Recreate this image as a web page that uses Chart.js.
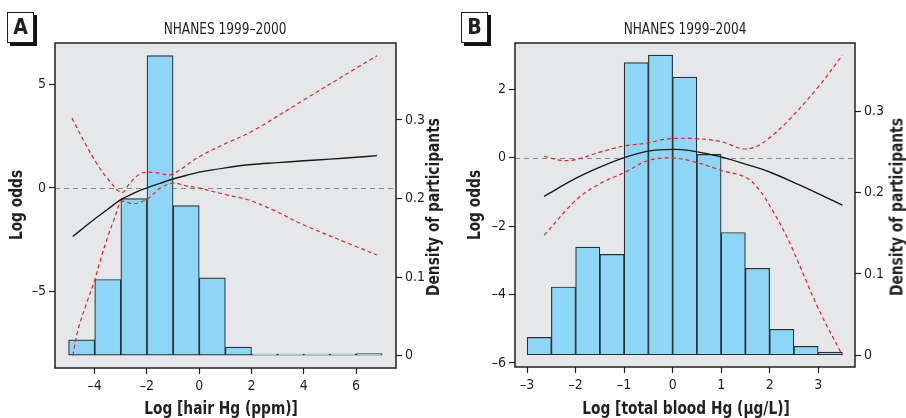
<!DOCTYPE html>
<html>
<head>
<meta charset="utf-8">
<script src="https://cdn.jsdelivr.net/npm/chart.js@4/dist/chart.umd.min.js"></script>
<style>
  html, body { margin:0; padding:0; background:#fff; }
  #wrap { position:relative; width:906px; height:418px; overflow:hidden;
          font-family:"Liberation Sans Narrow","DejaVu Sans Condensed","Arial Narrow",Arial,sans-serif; color:#231f20; }
  canvas { position:absolute; top:0; }
  .t { position:absolute; white-space:nowrap; transform:translate(-50%,-50%) scaleX(0.9); }
  .ttl { font-size:15px; }
  .ax { font-size:18px; font-weight:bold; }
  .rot { transform:translate(-50%,-50%) rotate(-90deg) scaleX(0.85); }
  .hx { transform:translate(-50%,-50%) scaleX(0.85); }
  .lbl { position:absolute; width:25px; height:29px; border:1.5px solid #231f20; background:#fff;
         box-shadow:3px 3px 0 #111; font-weight:bold; font-size:21px; text-align:center; line-height:29px; }
</style>
</head>
<body>
<div id="wrap">
  <canvas id="cA" width="453" height="418" style="left:0"></canvas>
  <canvas id="cB" width="453" height="418" style="left:453px"></canvas>
  <div class="lbl" style="left:7px;top:12px;">A</div>
  <div class="lbl" style="left:461px;top:12px;">B</div>
  <div class="t ttl" style="left:225px;top:29px;">NHANES 1999–2000</div>
  <div class="t ttl" style="left:685px;top:29px;">NHANES 1999–2004</div>
  <div class="t ax rot" style="left:15px;top:205px;">Log odds</div>
  <div class="t ax rot" style="left:432px;top:207px;">Density of participants</div>
  <div class="t ax rot" style="left:473px;top:205px;">Log odds</div>
  <div class="t ax rot" style="left:896px;top:207px;">Density of participants</div>
  <div class="t ax hx" style="left:221px;top:407px;">Log [hair Hg (ppm)]</div>
  <div class="t ax hx" style="left:686px;top:407px;">Log [total blood Hg (μg/L)]</div>
</div>
<script>
// ---------- Panel A: NHANES 1999–2000, log hair Hg ----------
const histA_centers = [-4.5,-3.5,-2.5,-1.5,-0.5,0.5,1.5,2.5,3.5,4.5,5.5,6.5];
const histA_density = [0.020,0.097,0.200,0.382,0.191,0.099,0.011,0.002,0.002,0.002,0.002,0.0025];

const fitA_x = [-4.84,-4.4,-4,-3.5,-3,-2.5,-2,-1.5,-1,-0.5,0,1,2,3,4,5,6,6.8];
const fitA_y = [-2.35,-1.9,-1.5,-1.03,-0.57,-0.25,0.0,0.22,0.43,0.6,0.76,0.97,1.13,1.22,1.31,1.39,1.48,1.56];

const upA_x = [-4.87,-4.44,-3.93,-3.42,-2.97,-2.66,-2.27,-1.95,-1.5,-1.12,-0.74,0,1,2,4,6,6.8];
const upA_y = [3.37,2.32,1.19,0.31,-0.23,0.23,0.68,0.76,0.71,0.63,0.87,1.51,2.14,2.72,4.25,5.78,6.38];

const loA_x = [-4.84,-4.64,-4.31,-4.0,-3.8,-3.54,-3.22,-2.97,-2.52,-2.0,-1.5,-1.0,-0.5,0,1.05,1.8,2.82,4,6,6.8];
const loA_y = [-8.1,-6.86,-5.57,-4.44,-3.56,-2.51,-1.39,-0.66,-0.77,-0.55,-0.02,0.23,0.1,-0.01,-0.34,-0.55,-1.06,-1.79,-2.83,-3.24];

const ticksA_x = [-4,-2,0,2,4,6];
const ticksA_left = [-5,0,5];
const ticksA_right = [0,0.1,0.2,0.3];

// ---------- Panel B: NHANES 1999–2004, log total blood Hg ----------
const histB_centers = [-2.75,-2.25,-1.75,-1.25,-0.75,-0.25,0.25,0.75,1.25,1.75,2.25,2.75,3.25];
const histB_density = [0.022,0.084,0.133,0.124,0.360,0.369,0.342,0.247,0.151,0.107,0.032,0.011,0.004];

const fitB_x = [-2.65,-2,-1.5,-1,-0.5,0,0.33,1,1.5,2,2.6,3,3.5];
const fitB_y = [-1.13,-0.61,-0.28,0,0.19,0.24,0.21,0.02,-0.19,-0.42,-0.79,-1.05,-1.39];

const upB_x = [-2.65,-2.3,-2,-1.5,-1,-0.5,-0.1,0.54,1.02,1.43,1.7,2.0,2.39,3,3.5];
const upB_y = [0.04,-0.08,-0.06,0.16,0.34,0.43,0.55,0.55,0.46,0.26,0.31,0.58,1.09,2.06,2.99];

const loB_x = [-2.65,-2,-1.5,-1,-0.5,0,0.47,1,1.5,1.75,2,2.39,3,3.5];
const loB_y = [-2.27,-1.25,-0.76,-0.44,-0.08,-0.01,-0.13,-0.37,-0.57,-0.88,-1.4,-2.42,-4.4,-5.78];

const ticksB_x = [-3,-2,-1,0,1,2,3];
const ticksB_left = [-6,-4,-2,0,2];
const ticksB_right = [0,0.1,0.2,0.3];

// ---------- helpers ----------
const FONT = '"Liberation Sans Narrow","DejaVu Sans Condensed","Arial Narrow",Arial,sans-serif';
const INK = '#231f20';
const RED = '#e8232b';
const zip = (xs, ys) => xs.map((x, i) => ({x, y: ys[i]}));
const fmt = v => String(v).replace('-', '\u2013');

const frame = {
  id: 'frame',
  beforeDraw(chart) {
    const {ctx, chartArea: a} = chart;
    ctx.save();
    ctx.fillStyle = '#e6e7e8';
    ctx.fillRect(a.left, a.top, a.right - a.left, a.bottom - a.top);
    ctx.restore();
  },
  beforeDatasetsDraw(chart) {
    const {ctx, chartArea: a} = chart;
    const y = chart.scales.yL.getPixelForValue(0);
    ctx.save();
    ctx.strokeStyle = '#8a8a8a';
    ctx.lineWidth = 1;
    ctx.setLineDash([5, 4]);
    ctx.beginPath();
    ctx.moveTo(a.left, Math.round(y) + 0.5);
    ctx.lineTo(a.right, Math.round(y) + 0.5);
    ctx.stroke();
    ctx.restore();
  },
  afterDraw(chart) {
    const {ctx, chartArea: a} = chart;
    ctx.save();
    ctx.strokeStyle = INK;
    ctx.lineWidth = 1.5;
    ctx.strokeRect(a.left, a.top, a.right - a.left, a.bottom - a.top);
    ctx.restore();
  }
};

function makeChart(id, cfg) {
  const tickFont = {family: FONT, size: 14};
  const setTicks = list => scale => { scale.ticks = list.map(v => ({value: v})); };
  return new Chart(document.getElementById(id), {
    type: 'bar',
    data: {
      datasets: [
        {type: 'line', data: zip(cfg.fitX, cfg.fitY), yAxisID: 'yL', borderColor: '#1a1a1a', borderWidth: 1.4,
         pointRadius: 0, tension: 0.35, fill: false, order: 0},
        {type: 'line', data: zip(cfg.upX, cfg.upY), yAxisID: 'yL', borderColor: RED, borderWidth: 1.2,
         borderDash: [4, 3], pointRadius: 0, tension: 0.35, fill: false, order: 0},
        {type: 'line', data: zip(cfg.loX, cfg.loY), yAxisID: 'yL', borderColor: RED, borderWidth: 1.2,
         borderDash: [4, 3], pointRadius: 0, tension: 0.35, fill: false, order: 0},
        {type: 'bar', data: zip(cfg.hx, cfg.hy), yAxisID: 'yR', backgroundColor: '#8ed6f6',
         borderColor: '#2e2e2e', borderWidth: 1.2, borderSkipped: false,
         barPercentage: 1, categoryPercentage: 1, grouped: false, order: 10}
      ]
    },
    options: {
      responsive: false, animation: false, devicePixelRatio: 1,
      layout: {padding: {top: cfg.top, left: 0, right: 0, bottom: 0}},
      plugins: {legend: {display: false}, tooltip: {enabled: false}, title: {display: false}},
      scales: {
        x: {
          type: 'linear', min: cfg.xmin, max: cfg.xmax, position: 'bottom', offset: false,
          afterBuildTicks: setTicks(cfg.tx),
          afterFit: s => { s.height = cfg.xh; },
          grid: {offset: false, drawOnChartArea: false, drawTicks: true, tickLength: 6, tickColor: INK, tickWidth: 1.2},
          border: {display: false},
          ticks: {font: tickFont, color: INK, padding: 4, maxRotation: 0, autoSkip: false, callback: fmt}
        },
        yL: {
          type: 'linear', position: 'left', min: cfg.lmin, max: cfg.lmax,
          afterBuildTicks: setTicks(cfg.tl),
          afterFit: s => { s.width = cfg.lw; },
          grid: {drawOnChartArea: false, drawTicks: true, tickLength: 6, tickColor: INK, tickWidth: 1.2},
          border: {display: false},
          ticks: {font: tickFont, color: INK, padding: 3, autoSkip: false, callback: fmt}
        },
        yR: {
          type: 'linear', position: 'right', min: cfg.rmin, max: cfg.rmax,
          afterBuildTicks: setTicks(cfg.tr),
          afterFit: s => { s.width = cfg.rw; },
          grid: {drawOnChartArea: false, drawTicks: true, tickLength: 6, tickColor: INK, tickWidth: 1.2},
          border: {display: false},
          ticks: {font: tickFont, color: INK, padding: 3, autoSkip: false, callback: v => String(v)}
        }
      }
    },
    plugins: [frame]
  });
}

makeChart('cA', {
  hx: histA_centers, hy: histA_density,
  fitX: fitA_x, fitY: fitA_y, upX: upA_x, upY: upA_y, loX: loA_x, loY: loA_y,
  tx: ticksA_x, tl: ticksA_left, tr: ticksA_right,
  xmin: -5.52, xmax: 7.53, lmin: -8.7, lmax: 7.0, rmin: -0.0157, rmax: 0.398,
  top: 43, xh: 50, lw: 55, rw: 57
});

makeChart('cB', {
  hx: histB_centers, hy: histB_density,
  fitX: fitB_x, fitY: fitB_y, upX: upB_x, upY: upB_y, loX: loB_x, loY: loB_y,
  tx: ticksB_x, tl: ticksB_left, tr: ticksB_right,
  xmin: -3.25, xmax: 3.76, lmin: -6.12, lmax: 3.35, rmin: -0.0144, rmax: 0.384,
  top: 43, xh: 51, lw: 62, rw: 51
});
</script>
</body>
</html>
